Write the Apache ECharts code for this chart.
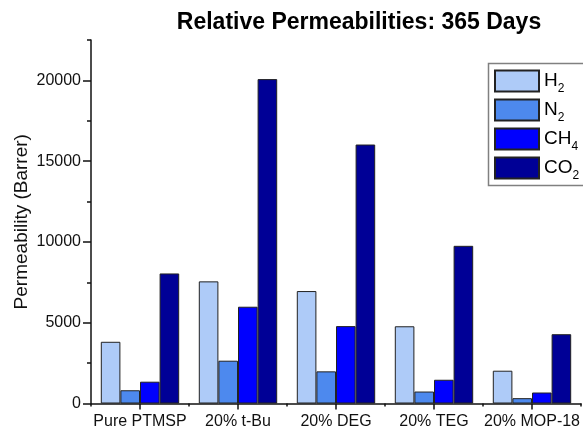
<!DOCTYPE html>
<html>
<head>
<meta charset="utf-8">
<script src="https://cdn.jsdelivr.net/npm/echarts@6/dist/echarts.min.js"></script>
<style>
  html, body { margin: 0; padding: 0; background: #fff; }
  #chart { width: 583px; height: 437px; }
</style>
</head>
<body>
<div id="chart"></div>
<script>
// Membrane samples along the x axis
const categories = ['Pure PTMSP', '20% t-Bu', '20% DEG', '20% TEG', '20% MOP-18'];

// Permeability (Barrer) after 365 days, one array per gas
const h2  = [3820, 7560, 6960, 4780, 2030];
const n2  = [820, 2650, 1990, 740, 330];
const ch4 = [1350, 5990, 4790, 1470, 680];
const co2 = [8050, 20080, 16030, 9760, 4290];

// Legend names with their subscripts
const gasNames = ['H2', 'N2', 'CH4', 'CO2'];
const gasLabels = { H2: 'H{s|2}', N2: 'N{s|2}', CH4: 'CH{s|4}', CO2: 'CO{s|2}' };

// Y-axis tick values
const yMajorTicks = [0, 5000, 10000, 15000, 20000];

const colors = ['#aecbf8', '#4d89ee', '#0000fe', '#000096'];
const FONT = 'Liberation Sans, Arial, sans-serif';

const chart = echarts.init(document.getElementById('chart'), null, { renderer: 'canvas' });

function bar(name, data, i) {
  return {
    name: name,
    type: 'bar',
    data: data,
    xAxisIndex: 0,
    yAxisIndex: 0,
    barGap: '0%',
    barCategoryGap: '20%',
    itemStyle: { color: colors[i], borderColor: '#222', borderWidth: 1 },
    emphasis: { disabled: true },
    animation: false
  };
}

chart.setOption({
  animation: false,
  textStyle: { fontFamily: FONT },
  title: {
    text: 'Relative Permeabilities: 365 Days',
    left: 354,
    top: 6,
    textAlign: 'center',
    textStyle: { fontFamily: FONT, fontSize: 23, fontWeight: 'bold', color: '#000' }
  },
  grid: { left: 91, right: 2, top: 40, bottom: 33.5, containLabel: false, outerBoundsMode: 'none' },
  legend: {
    data: gasNames,
    orient: 'vertical',
    left: 494,
    top: 67.5,
    itemWidth: 44,
    itemHeight: 21,
    // the padded subscript makes each text block taller than the swatch
    itemGap: 2,
    padding: 0,
    selectedMode: false,
    icon: 'rect',
    formatter: name => gasLabels[name],
    textStyle: {
      fontFamily: FONT,
      fontSize: 19,
      lineHeight: 21,
      color: '#000',
      rich: {
        s: { fontFamily: FONT, fontSize: 12, lineHeight: 6, padding: [15, 0, 0, 0], color: '#000' }
      }
    }
  },
  graphic: [{
    type: 'rect',
    shape: { x: 488.5, y: 63.5, width: 120, height: 122 },
    style: { fill: 'none', stroke: '#808080', lineWidth: 1.5 },
    silent: true
  }],
  xAxis: [{
    type: 'category',
    data: categories,
    position: 'bottom',
    axisLine: { lineStyle: { color: '#111', width: 1.5 } },
    axisTick: { show: true, alignWithLabel: true, length: 6, lineStyle: { color: '#111', width: 1.5 } },
    axisLabel: { fontFamily: FONT, fontSize: 16, color: '#111', margin: 10, interval: 0 }
  }, {
    // boundary ticks between categories
    type: 'category',
    data: categories,
    position: 'bottom',
    axisLine: { show: false },
    axisTick: { show: true, interval: 0, length: 3, lineStyle: { color: '#111', width: 1.5 } },
    axisLabel: { show: false }
  }],
  yAxis: [{
    type: 'value',
    min: 0,
    max: 22500,
    interval: 5000,
    name: 'Permeability (Barrer)',
    nameLocation: 'middle',
    nameGap: 60,
    nameMoveOverlap: false,
    nameTextStyle: { fontFamily: FONT, fontSize: 19, color: '#111' },
    axisLine: { show: true, lineStyle: { color: '#111', width: 1.5 } },
    axisTick: { show: true, length: 8, customValues: yMajorTicks, lineStyle: { color: '#111', width: 1.5 } },
    axisLabel: {
      fontFamily: FONT, fontSize: 16, color: '#111', margin: 10,
      customValues: yMajorTicks,
      formatter: v => String(v)
    },
    splitLine: { show: false }
  }, {
    // minor ticks every 2500
    type: 'value',
    min: 0,
    max: 22500,
    interval: 2500,
    position: 'left',
    axisLine: { show: false },
    axisTick: { show: true, length: 4, lineStyle: { color: '#111', width: 1.5 } },
    axisLabel: { show: false },
    splitLine: { show: false }
  }],
  series: [
    bar('H2', h2, 0),
    bar('N2', n2, 1),
    bar('CH4', ch4, 2),
    bar('CO2', co2, 3)
  ]
});
</script>
</body>
</html>
